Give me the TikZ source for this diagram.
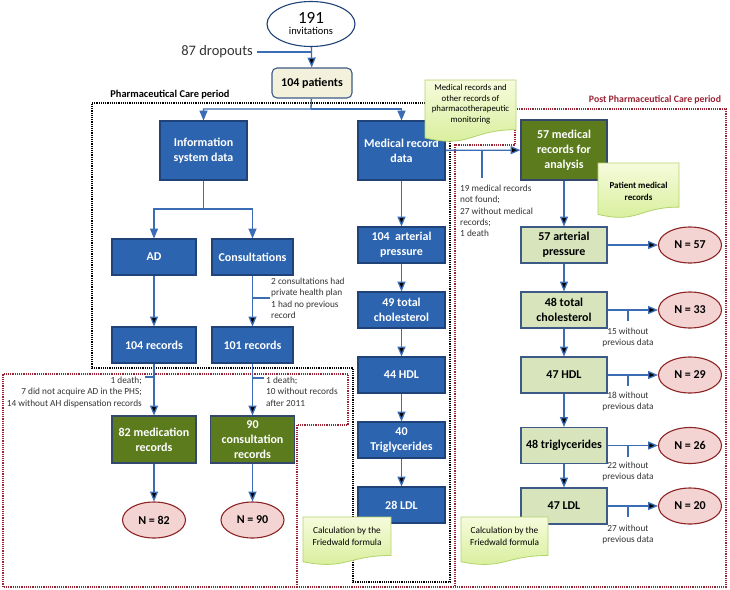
\documentclass[tikz,border=0pt]{standalone}
\usepackage{fontspec}
\setmainfont{Carlito}
\usetikzlibrary{positioning,arrows,calc,shapes.geometric}

\definecolor{boxblue}{HTML}{2C64B0}
\definecolor{boxline}{HTML}{1F4379}
\definecolor{connblue}{HTML}{3A6DB5}
\definecolor{olivefill}{HTML}{5B7B1C}
\definecolor{oliveline}{HTML}{34486E}
\definecolor{palegreen}{HTML}{D7E4BC}
\definecolor{paleline}{HTML}{3C5A85}
\definecolor{creamfill}{HTML}{F3F0DC}
\definecolor{pinkfill}{HTML}{F4D4D3}
\definecolor{pinkline}{HTML}{8C2424}
\definecolor{periodred}{HTML}{9A2334}
\definecolor{notetop}{HTML}{F6FBDC}
\definecolor{notebottom}{HTML}{D6EE97}
\definecolor{noteline}{HTML}{B3D36B}
\definecolor{remarkgray}{HTML}{333333}

\tikzset{
  basebox/.style={draw, line width=1.1pt, align=center, inner sep=2pt,
    font=\bfseries\fontsize{12}{15}\selectfont},
  infobox/.style={basebox, draw=boxline, fill=boxblue, text=white},
  keptbox/.style={basebox, draw=oliveline, fill=olivefill, text=white},
  checkbox/.style={basebox, draw=paleline, fill=palegreen, text=black,
    minimum width=86pt, minimum height=36pt},
  result/.style={ellipse, draw=pinkline, fill=pinkfill, line width=1.1pt,
    minimum width=63pt, minimum height=36pt, inner sep=0pt,
    font=\bfseries\fontsize{12}{14}\selectfont},
  conn/.style={draw=connblue, line width=1.3pt},
  frame/.style={densely dotted, line width=1.2pt},
  smallnote/.style={inner sep=0pt, text=remarkgray,
    font=\fontsize{9.3}{11.3}\selectfont},
  notepaper/.style={draw=noteline, line width=0.8pt, top color=notetop, bottom color=notebottom},
  notetext/.style={align=center, inner sep=0pt, text=black,
    font=\fontsize{9}{11.5}\selectfont}
}

\begin{document}
\begin{tikzpicture}[x=1pt,y=-1pt,>=triangle 45]
\useasboundingbox (0,0) rectangle (730,589);

\draw[frame] (92,103) -- (450,103) -- (450,582) -- (353,582) -- (353,368) -- (92,368) -- cycle;
\draw[frame, draw=periodred] (297,587) -- (297,425) -- (348,425) -- (348,374) -- (3,374) -- (3,587)
  -- (726,587) -- (726,109) -- (515,109) -- (515,145) -- (455,145) -- (455,587);

\node[font=\bfseries\fontsize{10.4}{12}\selectfont] (pcp) at (170,95) {Pharmaceutical Care period};
\node[font=\bfseries\fontsize{9.8}{12}\selectfont, text=periodred] (ppcp) at (655,100) {Post Pharmaceutical Care period};

\node[ellipse, draw=boxline, fill=white, line width=1.1pt, minimum width=88pt, minimum height=45pt,
  inner sep=0pt, align=center] (inv) at (311,24)
  {{\fontsize{17}{17}\selectfont 191}\\[-1pt]{\fontsize{10.5}{11}\selectfont invitations}};
\node[anchor=east, inner sep=0pt, text=remarkgray, font=\fontsize{14.5}{16}\selectfont] (drop) at (253,52) {87 dropouts};
\node[basebox, rounded corners=5pt, draw=paleline, fill=creamfill, text=black,
  minimum width=80pt, minimum height=30pt] (pat) at (312,83) {104 patients};

\node[infobox, minimum width=87pt, minimum height=59pt] (info) at (203.5,150.5) {Information\\system data};
\node[infobox, minimum width=87pt, minimum height=59pt] (med) at (401.5,150.5) {Medical record\\data};

\node[infobox, minimum width=84pt, minimum height=36pt] (ad) at (154,257) {AD};
\node[infobox, minimum width=81pt, minimum height=36pt] (cons) at (252.5,257) {Consultations};
\node[infobox, minimum width=84pt, minimum height=36pt] (rec104) at (154,345) {104 records};
\node[infobox, minimum width=81pt, minimum height=36pt] (rec101) at (252.5,345) {101 records};
\node[keptbox, minimum width=84pt, minimum height=47pt] (medrec82) at (154,439.5) {82 medication\\records};
\node[keptbox, minimum width=84pt, minimum height=47pt] (cons90) at (252.5,439.5) {90\\consultation\\records};
\node[result] (n82) at (154,520) {N = 82};
\node[result] (n90) at (252.5,520) {N = 90};

\node[infobox, minimum width=87pt, minimum height=36pt] (ap104) at (401.5,245) {104\ \ arterial\\pressure};
\node[infobox, minimum width=87pt, minimum height=36pt] (tc49) at (401.5,310) {49 total\\cholesterol};
\node[infobox, minimum width=87pt, minimum height=36pt] (hdl44) at (401.5,375) {44 HDL};
\node[infobox, minimum width=87pt, minimum height=36pt] (tg40) at (401.5,440) {40\\Triglycerides};
\node[infobox, minimum width=87pt, minimum height=36pt] (ldl28) at (401.5,505) {28 LDL};

\node[keptbox, minimum width=86pt, minimum height=60pt] (rec57) at (564,150) {57 medical\\records for\\analysis};
\node[checkbox] (ap57) at (564,245) {57 arterial\\pressure};
\node[checkbox] (tc48) at (564,310) {48 total\\cholesterol};
\node[checkbox] (hdl47) at (564,375) {47 HDL};
\node[checkbox] (tg48) at (564,445.5) {48 triglycerides};
\node[checkbox] (ldl47) at (564,506) {47 LDL};

\node[result] (n57) at (690,245) {N = 57};
\node[result] (n33) at (690,310) {N = 33};
\node[result] (n29) at (690,375) {N = 29};
\node[result] (n26) at (690,445.5) {N = 26};
\node[result] (n20) at (690,506) {N = 20};

\coordinate (split1) at (311,109);
\coordinate (split2) at (203.5,209);
\path[conn,->] (inv) edge (pat);
\draw[conn] (drop.east) ++(4,0) -- (drop -| inv);
\draw[conn,->] (pat) -- (split1) -| (info);
\draw[conn,->] (split1) -| (med);
\draw[conn] (info) -- (split2);
\draw[conn,->] (split2) -| (ad);
\draw[conn,->] (split2) -| (cons);

\path[conn,->] (ad) edge (rec104);
\path[conn,->] (cons) edge (rec101);
\path[conn,->] (rec104) edge (medrec82);
\path[conn,->] (rec101) edge (cons90);
\path[conn,->] (medrec82) edge (n82);
\path[conn,->] (cons90) edge (n90);

\coordinate (t1) at (270,298);
\coordinate (t2) at (145,377);
\coordinate (t3) at (264,378);
\draw[conn] (t1) -- (t1 -| cons);
\draw[conn] (t2) -- (t2 -| rec104);
\draw[conn] (t3) -- (t3 -| rec101);
\node[smallnote, anchor=north west, align=left] (t1txt) at (271,278)
  {2 consultations had\\private health plan\\1 had no previous\\record};
\node[smallnote, anchor=north east, align=right] (t2txt) at (142,377)
  {1 death;\\7 did not acquire AD in the PHS;\\14 without AH dispensation records};
\node[smallnote, anchor=north west, align=left] (t3txt) at (266,377)
  {1 death;\\10 without records\\after 2011};

\path[conn,->] (med) edge (ap104);
\path[conn,->] (ap104) edge (tc49);
\path[conn,->] (tc49) edge (hdl44);
\path[conn,->] (hdl44) edge (tg40);
\path[conn,->] (tg40) edge (ldl28);

\path[conn,->] (med) edge (rec57);
\coordinate (m1) at (482,178);
\draw[conn] (m1) -- (m1 |- med);
\node[smallnote, anchor=north west, align=left] (m1txt) at (460,185)
  {19 medical records\\not found;\\27 without medical\\records;\\1 death};

\path[conn,->] (rec57) edge (ap57);
\path[conn,->] (ap57) edge (tc48);
\path[conn,->] (tc48) edge (hdl47);
\path[conn,->] (hdl47) edge (tg48);
\path[conn,->] (tg48) edge (ldl47);

\path[conn,->] (ap57) edge (n57);
\path[conn,->] (tc48) edge (n33);
\path[conn,->] (hdl47) edge (n29);
\path[conn,->] (tg48) edge (n26);
\path[conn,->] (ldl47) edge (n20);

\coordinate (r1) at (628,321);
\coordinate (r2) at (628,386);
\coordinate (r3) at (628,456.5);
\coordinate (r4) at (628,517);
\draw[conn] (r1) -- (r1 |- tc48);
\draw[conn] (r2) -- (r2 |- hdl47);
\draw[conn] (r3) -- (r3 |- tg48);
\draw[conn] (r4) -- (r4 |- ldl47);
\node[smallnote, anchor=north, align=center] (r1txt) at (628,328) {15 without\\previous data};
\node[smallnote, anchor=north, align=center] (r2txt) at (628,392) {18 without\\previous data};
\node[smallnote, anchor=north, align=center] (r3txt) at (628,462) {22 without\\previous data};
\node[smallnote, anchor=north, align=center] (r4txt) at (628,525) {27 without\\previous data};

\path[notepaper] (425,80) -- (516,80) -- (516,129.7)
  .. controls (470.5,129.7) and (470.5,148.7) .. (425,137.9) -- cycle;
\node[notetext, font=\fontsize{8.8}{10.5}\selectfont] (note1) at (470.5,104)
  {Medical records and\\other records of\\pharmacotherapeutic\\monitoring};
\path[notepaper] (598,163) -- (679,163) -- (679,207.1)
  .. controls (638.5,207.1) and (638.5,223.9) .. (598,214.4) -- cycle;
\node[notetext, font=\bfseries\fontsize{9}{12}\selectfont] (note2) at (638.5,191) {Patient medical\\records};
\path[notepaper] (303,517) -- (391,517) -- (391,555.5)
  .. controls (347,555.5) and (347,570.2) .. (303,561.8) -- cycle;
\node[notetext, font=\fontsize{9.3}{12}\selectfont] (note3) at (347,536) {Calculation by the\\Friedwald formula};
\path[notepaper] (461,517) -- (548,517) -- (548,555.5)
  .. controls (504.5,555.5) and (504.5,570.2) .. (461,561.8) -- cycle;
\node[notetext, font=\fontsize{9.3}{12}\selectfont] (note4) at (504.5,536) {Calculation by the\\Friedwald formula};

\end{tikzpicture}
\end{document}
